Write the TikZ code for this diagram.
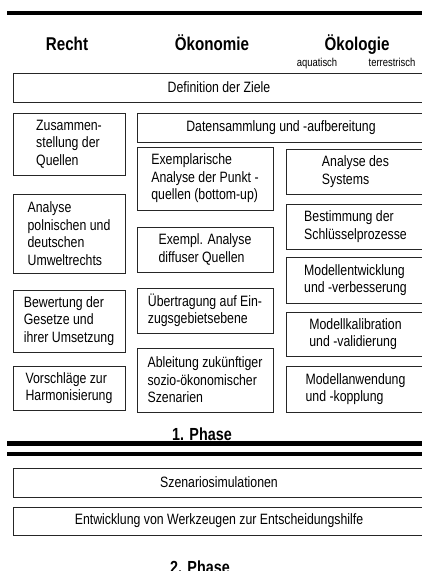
\documentclass[tikz,border=0pt]{standalone}
\usepackage{fontspec}
\setmainfont[FakeStretch=0.82]{Liberation Sans}

\begin{document}
\begin{tikzpicture}[x=1pt, y=-1pt,
        box/.style={rectangle, draw=black!85, line width=0.8pt, inner sep=0pt, align=left, font=\fontsize{15}{17.5}\selectfont},
        head/.style={anchor=base, font=\fontsize{18.5}{22}\selectfont\bfseries},
        sub/.style={anchor=base, font=\fontsize{11.5}{14}\selectfont},
        phase/.style={anchor=base, font=\fontsize{17.5}{21}\selectfont\bfseries},
        bar/.style={black, line width=#1}]
        \useasboundingbox (0,0) rectangle (422,571);
        \clip (0,0) rectangle (422,571);

        \draw[bar=4pt] (7,13) -- (425,13);
        \node[head] (recht) at (67,50) {Recht};
        \node[head] (oekon) at (212,50) {Ökonomie};
        \node[head] (oekol) at (357,50) {Ökologie};
        \node[sub] (aqua) at (317,66.5) {aquatisch};
        \node[sub] (terr) at (392,66.5) {terrestrisch};

        \node[box, minimum width=412, minimum height=29, align=center] (ziele) at (219,87.5) {Definition der Ziele};

        \node[box, minimum width=112, minimum height=62] (quellen) at (69,144) {Zusammen-\\stellung der\\Quellen};
        \node[box, minimum width=112, minimum height=79] (umwelt) at (69,233.5) {Analyse\\polnischen und\\deutschen\\Umweltrechts};
        \node[box, minimum width=112, minimum height=62] (gesetze) at (69,321) {Bewertung der\\Gesetze und\\ihrer Umsetzung};
        \node[box, minimum width=112, minimum height=44] (harmon) at (69,388) {Vorschläge zur\\Harmonisierung};

        \node[box, minimum width=288, minimum height=29, align=center] (daten) at (281,127.5) {Datensammlung und -aufbereitung};

        \node[box, minimum width=136, minimum height=63] (punkt) at (205,178.5) {Exemplarische\\Analyse der Punkt -\\quellen (bottom-up)};
        \node[box, minimum width=136, minimum height=45] (diffus) at (205,249.5) {Exempl. Analyse\\diffuser Quellen};
        \node[box, minimum width=136, minimum height=45] (einzug) at (205,310.5) {Übertragung auf Ein-\\zugsgebietsebene};
        \node[box, minimum width=136, minimum height=64] (szen) at (205,380) {Ableitung zukünftiger\\sozio-ökonomischer\\Szenarien};

        \node[box, minimum width=139, minimum height=45] (system) at (355.5,171.5) {Analyse des\\Systems};
        \node[box, minimum width=139, minimum height=45] (schluessel) at (355.5,226.5) {Bestimmung der\\Schlüsselprozesse};
        \node[box, minimum width=139, minimum height=46] (modell) at (355.5,280) {Modellentwicklung\\und -verbesserung};
        \node[box, minimum width=139, minimum height=44] (kalib) at (355.5,334) {Modellkalibration\\und -validierung};
        \node[box, minimum width=139, minimum height=46] (anwend) at (355.5,389) {Modellanwendung\\und -kopplung};

        \node[phase] (phaseA) at (202,440) {1. Phase};
        \draw[bar=5pt] (7,443) -- (425,443);
        \draw[bar=3.5pt] (7,454) -- (425,454);

        \node[box, minimum width=412, minimum height=29, align=center] (simul) at (219,482.5) {Szenariosimulationen};
        \node[box, minimum width=412, minimum height=28, align=center] (werkz) at (219,521) {Entwicklung von Werkzeugen zur Entscheidungshilfe};

        \node[phase] (phaseB) at (200,573.5) {2. Phase};
    \end{tikzpicture}
\end{document}
